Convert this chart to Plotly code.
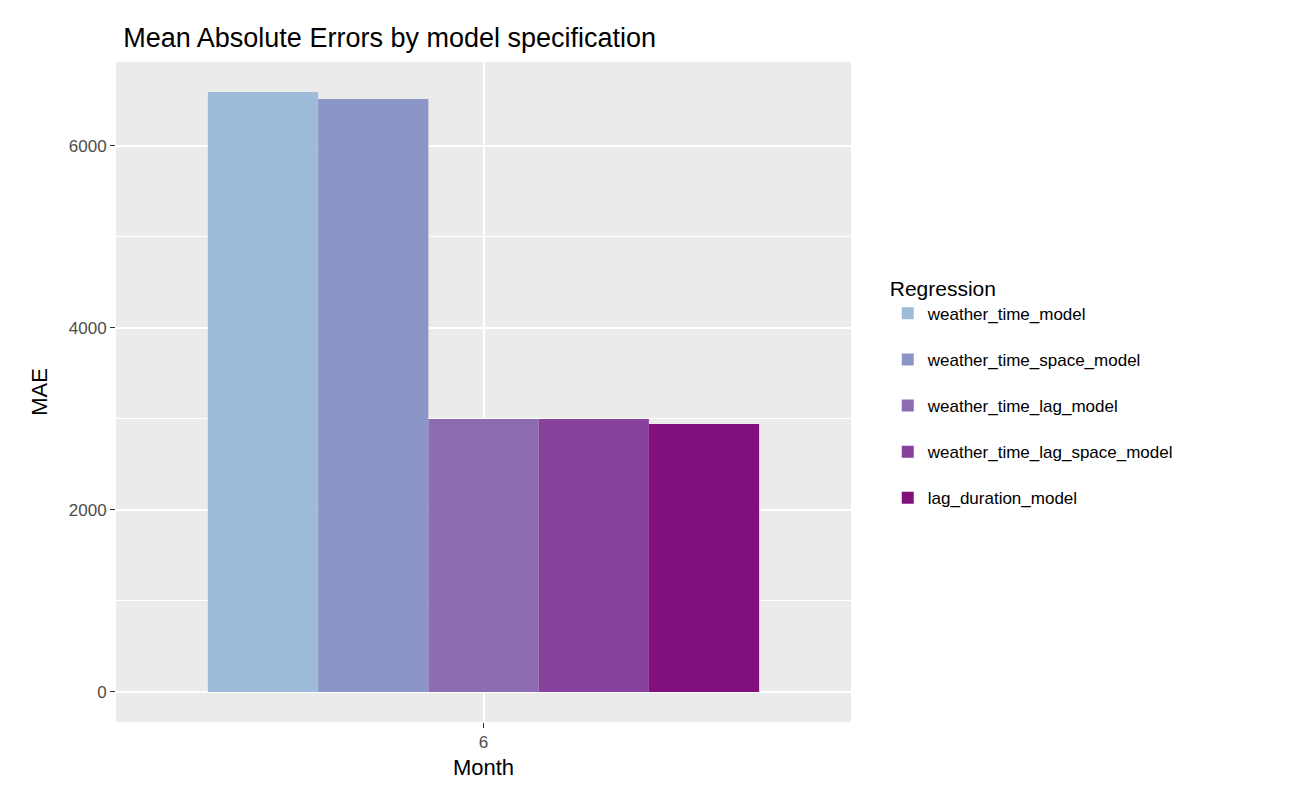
import plotly.graph_objects as go

models = ["weather_time_model", "weather_time_space_model", "weather_time_lag_model",
          "weather_time_lag_space_model", "lag_duration_model"]
mae = [6593, 6516, 3000, 3000, 2945]
month = [6]
colors = ["#9EBCDA", "#8C96C6", "#8C6BB1", "#88419D", "#810F7C"]

fig = go.Figure()
for m, v, c in zip(models, mae, colors):
    fig.add_trace(go.Bar(x=month, y=[v], name=m, legendgroup=m, marker_color=c,
                         marker_line_width=0))

fig.update_layout(
    width=1310, height=809,
    barmode="group", bargap=0.1, bargroupgap=0,
    paper_bgcolor="white", plot_bgcolor="#EBEBEB",
    font=dict(family="Liberation Sans, Arial", size=17, color="black"),
    title=dict(text="Mean Absolute Errors by model specification", x=0.088, y=0.975,
               font=dict(size=27)),
    margin=dict(l=108, r=467, t=54, b=95),
    legend=dict(title=dict(text="Regression", font=dict(size=21)), x=1.05, y=0.5,
                yanchor="middle", font=dict(size=17), itemsizing="constant",
                tracegroupgap=21),
)
fig.update_xaxes(range=[5.4, 6.6], tickvals=[6], ticktext=["6"], showgrid=True,
                 gridcolor="white", gridwidth=1.5, zeroline=False, ticks="outside",
                 ticklen=5, tickcolor="#333", tickfont=dict(color="#4D4D4D", size=17),
                 title=dict(text="Month", font=dict(size=22), standoff=8))
fig.update_yaxes(range=[-330, 6923], tickvals=[0, 2000, 4000, 6000], showgrid=True,
                 gridcolor="white", gridwidth=1.5, zeroline=False, ticks="outside",
                 ticklen=5, tickcolor="#333", tickfont=dict(color="#4D4D4D", size=17),
                 minor=dict(tickvals=[1000, 3000, 5000], showgrid=True,
                            gridcolor="white", gridwidth=0.7),
                 title=dict(text="MAE", font=dict(size=22)))

fig.write_html("out.html")
